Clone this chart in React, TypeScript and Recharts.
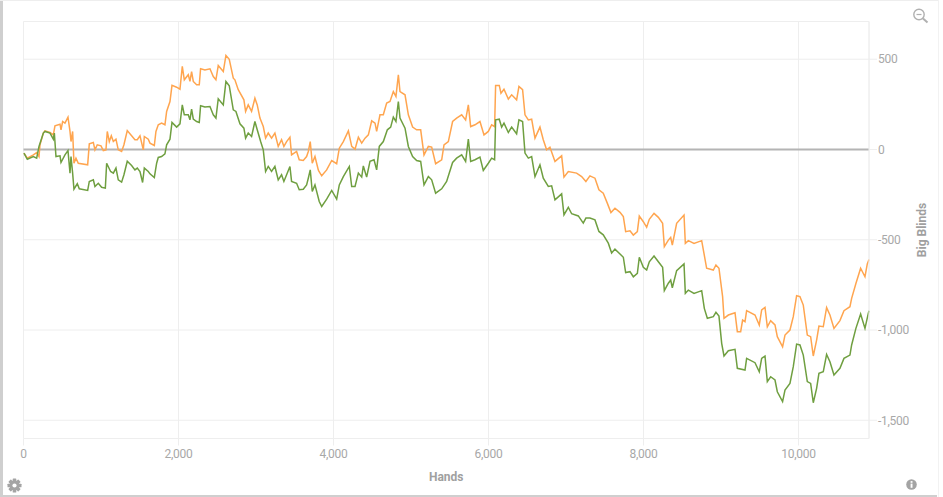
import React from 'react';
import { LineChart, Line, XAxis, YAxis, CartesianGrid, ReferenceLine } from 'recharts';

const orangeHands = [6,49,127,170,200,213,256,277,342,385,406,471,484,505,535,574,600,613,634,651,677,707,828,849,901,922,952,1000,1030,1064,1081,1107,1133,1159,1193,1223,1266,1296,1339,1395,1438,1468,1503,1546,1559,1610,1632,1688,1709,1739,1782,1825,1847,1890,1916,1976,2019,2049,2075,2126,2148,2169,2191,2234,2268,2285,2341,2406,2449,2483,2513,2578,2612,2655,2707,2728,2771,2844,2866,2900,2943,2986,3016,3051,3094,3124,3158,3201,3244,3287,3330,3360,3395,3438,3459,3524,3558,3610,3653,3675,3700,3726,3761,3804,
3813,3848,3912,3977,4041,4075,4127,4192,4235,4278,4321,4364,4407,4450,4493,4536,4557,4600,4643,4686,4729,4772,4806,4837,4858,4923,4966,5021,5073,5125,5168,5224,5267,5318,5396,5426,5482,5537,5589,5654,5705,5740,5770,5826,5890,5942,5998,6041,6079,6092,6139,6161,6200,6256,6299,6363,6393,6440,6471,6514,6557,6600,6664,6707,6750,6793,6858,6944,6974,7030,7137,7202,7257,7309,7374,7425,7481,7533,7580,7632,
7697,7740,7770,7826,7869,7921,7946,7998,8041,8075,8136,8192,8247,8269,8321,8351,8372,8428,8523,8540,8579,8652,8751,8815,8901,8935,8974,9021,9039,9095,9181,9211,9254,9279,9310,9331,9439,9494,9525,9568,9598,9641,9697,9727,9795,9826,9890,9933,9976,10019,10062,10114,10157,10191,10234,10264,10320,10363,10406,10458,10535,10587,10664,10686,10741,10802,10858,10888,10910];
const orangeBB = [-20,-48,-30,-17,-39,26,91,103,94,81,131,140,109,155,146,179,100,44,100,-76,-48,-76,-85,31,39,-2,26,20,-6,-2,100,44,76,44,57,-2,-11,26,105,76,54,54,76,-2,72,57,35,22,100,137,146,137,211,266,355,345,334,460,386,414,377,432,377,358,358,447,441,447,404,386,465,432,521,500,395,386,331,275,211,247,211,284,247,174,127,63,91,63,91,17,54,17,44,68,-30,-11,-57,-61,-39,-11,44,-76,-39,-113,
-122,-146,-113,-61,-79,7,44,103,17,2,68,35,63,81,159,146,100,192,192,257,266,321,294,414,321,303,192,124,109,109,-30,17,13,-79,-57,26,44,155,174,192,164,247,127,137,155,81,100,137,127,355,355,312,334,279,303,275,349,331,192,164,168,63,124,54,-2,13,-66,-35,-153,-122,-131,-150,-177,-146,-159,-223,-242,-297,-349,-325,
-348,-372,-455,-450,-474,-455,-369,-400,-431,-387,-354,-376,-409,-538,-502,-487,-529,-409,-363,-520,-505,-520,-505,-658,-668,-640,-658,-815,-935,-917,-904,-1009,-1009,-945,-954,-893,-917,-972,-889,-875,-982,-948,-972,-1037,-1093,-1028,-1000,-926,-810,-815,-862,-1028,-1037,-1144,-1056,-978,-982,-876,-917,-991,-948,-893,-871,-825,-742,-658,-705,-634,-609];

const greenHands = [6,49,127,170,200,256,277,342,385,398,419,471,484,535,574,600,613,634,651,694,720,828,849,901,922,965,1008,1056,1073,1124,1159,1193,1223,1266,1296,1339,1395,1438,1468,1503,1537,1559,1610,1632,1688,1718,1739,1782,1825,1847,1890,1916,1976,2019,2049,2075,2126,2148,2169,2191,2234,2268,2285,2341,2406,2449,2483,2513,2578,2612,2655,2707,2741,2793,2844,2866,2900,2943,2986,3016,3060,3094,3124,3158,3201,3244,3287,3330,3360,3395,3438,3459,3524,3558,3610,3653,3675,3700,3726,3761,3816,
3848,3912,3977,4041,4075,4127,4204,4235,4278,4321,4364,4385,4428,4471,4523,4557,4591,4643,4695,4738,4772,4806,4837,4858,4923,4966,5021,5073,5125,5168,5224,5267,5318,5396,5460,5537,5589,5654,5705,5740,5770,5826,5890,5933,5998,6041,6079,6092,6139,6170,6200,6256,6299,6363,6393,6440,6471,6514,6557,6600,6664,6707,6772,6815,6858,6944,6974,7030,7073,7159,7223,7257,7309,7374,7425,7481,7546,7589,7632,
7697,7740,7770,7826,7869,7921,7946,7998,8041,8075,8136,8192,8247,8269,8321,8351,8372,8428,8523,8540,8579,8652,8751,8785,8824,8901,8935,8974,9009,9039,9095,9181,9211,9310,9331,9439,9494,9525,9568,9598,9641,9697,9727,9795,9826,9890,9933,9976,10019,10062,10114,10157,10191,10234,10264,10320,10363,10406,10458,10535,10587,10664,10686,10741,10802,10858,10901,10910];
const greenBB = [-20,-54,-39,-48,17,91,100,91,57,91,-39,-35,-72,-30,-6,-131,-39,-131,-220,-190,-218,-227,-177,-168,-205,-187,-209,-214,-76,-122,-131,-103,-168,-181,-140,-65,-89,-113,-103,-122,-183,-103,-122,-135,-155,-76,-44,-39,-24,26,57,150,124,142,247,192,192,164,223,168,155,150,242,235,238,192,174,281,247,377,353,220,211,142,118,63,91,72,155,109,44,-2,-122,-94,-122,-94,-168,-140,-177,-140,-94,-177,-187,-223,-220,-196,-159,-113,-233,-196,-288,
-316,-275,-227,-275,-196,-150,-94,-205,-205,-131,-153,-91,-153,-66,-57,-113,17,44,109,124,179,155,266,174,118,17,-39,-61,-66,-196,-150,-168,-242,-218,-177,-72,-48,-30,-66,57,-66,-57,-42,-116,-76,-48,-57,164,168,124,146,94,124,87,164,155,-20,-48,-39,-150,-85,-159,-205,-201,-279,-246,-362,-320,-356,-368,-408,-380,-380,-390,-454,-473,-519,-574,-552,
-579,-597,-682,-677,-705,-686,-597,-653,-668,-622,-590,-622,-653,-782,-741,-723,-766,-671,-634,-797,-779,-797,-782,-880,-935,-926,-902,-923,-1074,-1144,-1115,-1107,-1212,-1222,-1157,-1181,-1231,-1157,-1144,-1286,-1259,-1277,-1342,-1397,-1333,-1296,-1203,-1078,-1083,-1139,-1286,-1296,-1403,-1323,-1240,-1231,-1135,-1176,-1249,-1212,-1157,-1139,-1083,-991,-911,-991,-908,-893];

const xTicks = [0, 2000, 4000, 6000, 8000, 10000];
const yTicks = [500, 0, -500, -1000, -1500];
const xMax = 10910;
const yMin = -1601;
const yMax = 709;

const orangeData = orangeHands.map((hands, i) => ({ hands, bb: orangeBB[i] }));
const greenData = greenHands.map((hands, i) => ({ hands, bb: greenBB[i] }));

const fmt = (v: number) => v.toLocaleString('en-US');
const font = 'Roboto, sans-serif';
const tickStyle = { fontSize: 12, fill: '#a8a8a8', fontFamily: font, letterSpacing: -0.3 };
const labelStyle = { fontSize: 12, fontWeight: 700, fill: '#a0a0a0', fontFamily: font };

export default function App() {
  return (
    <div style={{ position: 'absolute', left: 0, top: 0, width: 943, height: 497, background: '#fff', overflow: 'hidden' }}>
      <div style={{ position: 'absolute', left: 0, top: 0, width: 3, height: 497, background: '#cfcfcf' }} />
      <div style={{ position: 'absolute', left: 0, top: 0, width: 938, height: 1, background: '#eeeeee' }} />
      <div style={{ position: 'absolute', left: 0, top: 495, width: 937, height: 2, background: '#cfcfcf' }} />
      <div style={{ position: 'absolute', left: 938, top: 0, width: 1, height: 497, background: '#f2f2f2' }} />
      <LineChart width={943} height={497} margin={{ top: 21.5, left: 23.5, right: 0, bottom: 0 }}>
        <CartesianGrid stroke="#eeeeee" strokeWidth={1} />
        <XAxis
          type="number"
          dataKey="hands"
          domain={[0, xMax]}
          ticks={xTicks}
          tickFormatter={fmt}
          allowDuplicatedCategory={false}
          height={58.5}
          tick={tickStyle}
          tickSize={7}
          tickMargin={4}
          tickLine={{ stroke: '#eeeeee' }}
          axisLine={{ stroke: '#eeeeee' }}
          label={{ value: 'Hands', position: 'insideBottom', offset: 16, style: labelStyle }}
        />
        <YAxis
          type="number"
          orientation="right"
          domain={[yMin, yMax]}
          ticks={yTicks}
          tickFormatter={fmt}
          width={74}
          tick={tickStyle}
          tickSize={8}
          tickMargin={1}
          tickLine={{ stroke: '#eeeeee' }}
          axisLine={{ stroke: '#eeeeee' }}
          label={{ value: 'Big Blinds', angle: -90, position: 'insideRight', offset: 21, style: { ...labelStyle, textAnchor: 'middle' } }}
        />
        <ReferenceLine y={yMax} stroke="#eeeeee" />
        <ReferenceLine y={0} stroke="#b4b4b4" strokeWidth={2} />
        <Line data={orangeData} dataKey="bb" stroke="#ffa54f" strokeWidth={1.5} dot={false} activeDot={false} isAnimationActive={false} legendType="none" />
        <Line data={greenData} dataKey="bb" stroke="#6f9f40" strokeWidth={1.5} dot={false} activeDot={false} isAnimationActive={false} legendType="none" />
      </LineChart>
      <svg style={{ position: 'absolute', left: 911, top: 7 }} width={20} height={18} viewBox="0 0 20 18" fill="none">
        <circle cx="8" cy="7.5" r="5.2" stroke="#b0b0b0" strokeWidth="1.4" />
        <line x1="5.5" y1="7.5" x2="10.5" y2="7.5" stroke="#b0b0b0" strokeWidth="1.2" />
        <line x1="12" y1="11.5" x2="16.5" y2="15.5" stroke="#b0b0b0" strokeWidth="2" />
      </svg>
      <svg style={{ position: 'absolute', left: 7, top: 478 }} width={15} height={15} viewBox="0 0 15 15">
        <g fill="#a4a4a4">
          {[0, 45, 90, 135].map((a) => (
            <rect key={a} x="5.7" y="0.5" width="3.6" height="14" rx="0.6" transform={`rotate(${a} 7.5 7.5)`} />
          ))}
          <circle cx="7.5" cy="7.5" r="5" />
        </g>
        <circle cx="7.5" cy="7.5" r="2.1" fill="#fff" />
      </svg>
      <svg style={{ position: 'absolute', left: 906, top: 479 }} width={11} height={11} viewBox="0 0 11 11">
        <circle cx="5.5" cy="5.5" r="5.3" fill="#a4a4a4" />
        <rect x="4.6" y="4.6" width="1.9" height="4.2" fill="#fff" />
        <rect x="4.6" y="2.1" width="1.9" height="1.7" fill="#fff" />
      </svg>
    </div>
  );
}
